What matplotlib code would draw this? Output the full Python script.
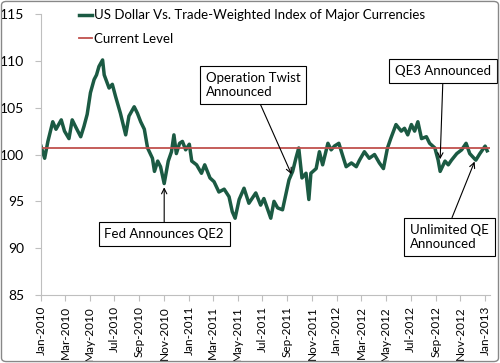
import pandas as pd
import matplotlib
matplotlib.use("Agg")
import matplotlib.pyplot as plt
import matplotlib.dates as mdates
from matplotlib.patches import FancyBboxPatch

plt.rcParams["font.family"] = ["Lato", "DejaVu Sans"]

dates = [
    "2010-01-01", "2010-01-10", "2010-01-18", "2010-01-30", "2010-02-07", "2010-02-20",
    "2010-02-28", "2010-03-11", "2010-03-19", "2010-03-27", "2010-04-09", "2010-04-17",
    "2010-04-25", "2010-05-03", "2010-05-12", "2010-05-18", "2010-05-24", "2010-06-02",
    "2010-06-06", "2010-06-18", "2010-06-26", "2010-07-04", "2010-07-16", "2010-07-29",
    "2010-08-06", "2010-08-19", "2010-08-27", "2010-09-04", "2010-09-13", "2010-09-21",
    "2010-10-03", "2010-10-08", "2010-10-16", "2010-10-23", "2010-11-01", "2010-11-11",
    "2010-11-19", "2010-11-25", "2010-12-01", "2010-12-09", "2010-12-16", "2010-12-24",
    "2011-01-02", "2011-01-08", "2011-01-20", "2011-02-01", "2011-02-09", "2011-02-22",
    "2011-03-04", "2011-03-16", "2011-03-29", "2011-04-10", "2011-04-18", "2011-04-25",
    "2011-05-05", "2011-05-17", "2011-05-29", "2011-06-15", "2011-06-27", "2011-07-05",
    "2011-07-22", "2011-07-30", "2011-08-08", "2011-08-20", "2011-08-28", "2011-09-05",
    "2011-09-14", "2011-09-22", "2011-09-29", "2011-10-07", "2011-10-17", "2011-10-24",
    "2011-10-29", "2011-11-11", "2011-11-19", "2011-11-27", "2011-12-10", "2011-12-18",
    "2011-12-26", "2012-01-06", "2012-01-16", "2012-01-24", "2012-02-06", "2012-02-18",
    "2012-02-26", "2012-03-09", "2012-03-21", "2012-04-03", "2012-04-15", "2012-04-25",
    "2012-05-05", "2012-05-13", "2012-05-26", "2012-06-08", "2012-06-16", "2012-06-24",
    "2012-07-03", "2012-07-11", "2012-07-19", "2012-07-28", "2012-08-09", "2012-08-17",
    "2012-08-30", "2012-09-07", "2012-09-12", "2012-09-24", "2012-10-02", "2012-10-10",
    "2012-10-23", "2012-11-04", "2012-11-15", "2012-11-24", "2012-12-09", "2012-12-19",
    "2013-01-01", "2013-01-06",
]
index_values = [
    100.9, 99.6, 101.4, 103.5, 102.7, 103.7,
    102.5, 101.7, 103.7, 103.0, 101.9, 103.0,
    104.3, 106.6, 108.0, 108.5, 109.4, 110.1,
    108.5, 107.1, 107.5, 106.2, 104.4, 102.1,
    104.1, 105.1, 104.4, 103.5, 102.7, 100.7,
    99.6, 98.2, 99.3, 98.7, 96.9, 99.3,
    100.3, 102.1, 100.1, 101.2, 101.4, 100.5,
    101.1, 99.3, 98.9, 98.0, 98.9, 97.5,
    97.1, 96.0, 96.3, 95.5, 93.9, 93.2,
    95.2, 96.4, 94.8, 95.9, 94.6, 95.3,
    93.2, 95.0, 94.3, 94.1, 95.7, 97.3,
    98.2, 99.6, 100.7, 97.5, 98.0, 95.2,
    98.0, 98.5, 100.3, 98.9, 101.2, 100.5,
    100.9, 101.2, 99.8, 98.7, 99.1, 98.7,
    99.4, 100.3, 99.6, 100.0, 99.1, 98.5,
    100.7, 101.7, 103.2, 102.5, 102.8, 102.1,
    103.2, 102.5, 103.5, 101.7, 101.9, 101.2,
    100.7, 99.4, 98.2, 99.3, 98.9, 99.4,
    100.1, 100.5, 101.2, 100.1, 99.4, 100.1,
    100.9, 100.4,
]
current_level = 100.75

df = pd.DataFrame({"date": pd.to_datetime(dates), "value": index_values})

fig = plt.figure(figsize=(5, 3.63), dpi=100)
ax = fig.add_axes([0.082, 0.1873, 0.898, 0.774])

green = "#1B5A43"
red = "#C0504D"

ax.plot(df["date"], df["value"], color=green, lw=2.5,
        label="US Dollar Vs. Trade-Weighted Index of Major Currencies")
ax.axhline(current_level, color=red, lw=1.3, label="Current Level")

ax.set_xlim(pd.Timestamp("2010-01-01"), pd.Timestamp("2013-01-13"))
ax.set_ylim(85, 115)
ax.set_yticks([85, 90, 95, 100, 105, 110, 115])

ax.xaxis.set_major_locator(mdates.MonthLocator(bymonth=[1, 3, 5, 7, 9, 11]))
ax.xaxis.set_major_formatter(mdates.DateFormatter("%b-%Y"))
plt.setp(ax.get_xticklabels(), rotation=90)

for s in ["top", "right"]:
    ax.spines[s].set_visible(False)
for s in ["left", "bottom"]:
    ax.spines[s].set_color("#BFBFBF")
ax.tick_params(axis="both", colors="#BFBFBF", labelcolor="black", length=4)
ax.tick_params(axis="y", labelsize=10, pad=8)
ax.tick_params(axis="x", labelsize=8.5, pad=4)

# annotations
box = dict(boxstyle="square,pad=0.45", fc="white", ec="black", lw=0.8)
arrow = dict(arrowstyle="->", color="black", lw=0.8, shrinkA=0, shrinkB=0)

ax.annotate("Fed Announces QE2", xy=(pd.Timestamp("2010-11-01"), 96.5),
            xytext=(pd.Timestamp("2010-11-01"), 91.5), ha="center", va="center",
            fontsize=9.5, bbox=box, arrowprops=dict(arrow, relpos=(0.5, 1)))
ax.annotate("Operation Twist\nAnnounced", xy=(pd.Timestamp("2011-09-11"), 97.9),
            xytext=(pd.Timestamp("2011-06-08"), 107.4), ha="center", va="center",
            fontsize=9.5, bbox=box, arrowprops=dict(arrow, relpos=(0.55, 0)),
            multialignment="left")
ax.annotate("QE3 Announced", xy=(pd.Timestamp("2012-09-12"), 99.5),
            xytext=(pd.Timestamp("2012-09-19"), 108.9), ha="center", va="center",
            fontsize=9.5, bbox=box, arrowprops=dict(arrow, relpos=(0.5, 0)))
ax.annotate("Unlimited QE\nAnnounced", xy=(pd.Timestamp("2012-12-06"), 99.25),
            xytext=(pd.Timestamp("2012-10-05"), 91.2), ha="center", va="center",
            fontsize=9.5, bbox=box, arrowprops=dict(arrow, relpos=(0.5, 1)),
            multialignment="left")

ax.legend(loc="upper left", bbox_to_anchor=(0.072, 1.035), frameon=False,
          fontsize=9.5, handlelength=1.0, handletextpad=0.2, labelspacing=0.85,
          borderaxespad=0)

fig.patches.append(FancyBboxPatch((0.003, 0.004), 0.994, 0.992,
                                  boxstyle="round,pad=0,rounding_size=0.01",
                                  transform=fig.transFigure, fc="none",
                                  ec="#888888", lw=1.0))

fig.savefig("out.png", dpi=100)
